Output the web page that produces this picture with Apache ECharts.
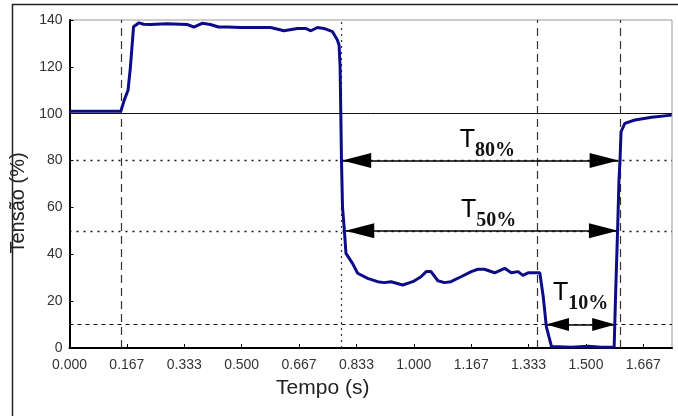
<!DOCTYPE html>
<html>
<head>
<meta charset="utf-8">
<script src="https://cdn.jsdelivr.net/npm/echarts@6/dist/echarts.min.js"></script>
<style>html,body{margin:0;padding:0;background:#fff}#c{width:678px;height:416px}</style>
</head>
<body>
<div id="c"></div>
<script>
var time = [0, 0.149, 0.159, 0.170, 0.177, 0.186, 0.202, 0.215, 0.235, 0.283, 0.341, 0.361, 0.385, 0.409, 0.433, 0.458, 0.497, 0.555, 0.584, 0.623, 0.662, 0.686, 0.701, 0.720, 0.739, 0.764, 0.778, 0.783, 0.786, 0.790, 0.793, 0.798, 0.803, 0.822, 0.837, 0.866, 0.895, 0.914, 0.934, 0.968, 0.997, 1.021, 1.036, 1.050, 1.070, 1.089, 1.108, 1.137, 1.167, 1.186, 1.205, 1.235, 1.264, 1.283, 1.303, 1.317, 1.332, 1.366, 1.376, 1.385, 1.400, 1.458, 1.507, 1.545, 1.582, 1.586, 1.592, 1.596, 1.599, 1.602, 1.613, 1.642, 1.691, 1.749];
var tension = [101, 101, 105.8, 110, 120, 137.1, 138.8, 138.2, 138.1, 138.4, 138.1, 137, 138.6, 138.1, 137, 137, 136.8, 136.8, 136.8, 135.4, 136.4, 136.4, 135.4, 136.8, 136.4, 135, 131.5, 129.3, 120, 80, 60, 51, 40.4, 36.1, 31.9, 29.7, 28.3, 27.9, 28.3, 26.9, 28.3, 30.4, 32.6, 32.6, 28.7, 27.9, 28.3, 30.4, 32.6, 33.6, 33.6, 32.1, 34, 32.1, 32.6, 31, 32.1, 32.1, 21.9, 9.1, 0.6, 0.3, 0.8, 0.3, 0.3, 21.9, 50.4, 71.7, 80.2, 92.3, 95.9, 97.3, 98.5, 99.4];
var yTicks = [0, 20, 40, 60, 80, 100, 120, 140];
var solidLevel = [100];
var dottedLevels = [80, 50];
var dashedLevels = [10];
var dashedTimes = [0.149, 1.363, 1.600];
var dottedTimes = [0.788];
var arrowNames = ['80%', '50%', '10%'];
var arrowLevels = [80, 50, 10];
var arrowStart = [0.792, 0.801, 1.384];
var arrowEnd = [1.595, 1.593, 1.585];

var chart = echarts.init(document.getElementById('c'), null, {renderer: 'canvas'});

var refLines = [];
solidLevel.forEach(function (v) {
  refLines.push({yAxis: v, lineStyle: {type: 'solid', color: '#111', width: 1}});
});
dottedLevels.forEach(function (v) {
  refLines.push({yAxis: v, lineStyle: {type: [2, 5], color: '#111', width: 1.3}});
});
dashedLevels.forEach(function (v) {
  refLines.push({yAxis: v, lineStyle: {type: [4, 4], color: '#111', width: 1}});
});
dashedTimes.forEach(function (v) {
  refLines.push({xAxis: v, lineStyle: {type: [8, 5], color: '#333', width: 1.2}});
});
dottedTimes.forEach(function (v) {
  refLines.push({xAxis: v, lineStyle: {type: [2, 4], color: '#333', width: 1.2}});
});

var arrows = arrowNames.map(function (n, i) {
  var small = (i === 2);
  var sz = small ? [13, 23] : [15, 29];
  var off = [0, sz[1] / 2];
  return [
    {coord: [arrowStart[i], arrowLevels[i]], symbol: 'triangle', symbolSize: sz, symbolOffset: off},
    {coord: [arrowEnd[i], arrowLevels[i]], symbol: 'triangle', symbolSize: sz, symbolOffset: off,
      label: {show: true, position: 'insideMiddleTop', distance: small ? 11 : 0,
        formatter: '{t|T}{s|' + n + '}',
        padding: [0, 0, 0, small ? 0 : 14],
        rich: {
          t: {fontFamily: 'Liberation Sans', fontSize: 25, color: '#000', verticalAlign: 'bottom', padding: [0, 0, 8, 0]},
          s: {fontFamily: 'Liberation Serif', fontWeight: 'bold', fontSize: 20, color: '#111', verticalAlign: 'bottom'}
        }
      }}
  ];
});

chart.setOption({
  animation: false,
  backgroundColor: '#fff',
  graphic: [{
    type: 'rect', shape: {x: 12.5, y: 4.5, width: 700, height: 440},
    style: {fill: 'none', stroke: '#222', lineWidth: 1.5}, silent: true
  }],
  grid: {left: 69.5, top: 20, right: 6, bottom: 68, show: true, borderColor: '#999', borderWidth: 1},
  xAxis: {
    type: 'value', min: 0, max: 1.75, interval: 1 / 6,
    name: 'Tempo (s)', nameLocation: 'middle', nameGap: 30,
    nameTextStyle: {fontFamily: 'Liberation Sans', fontSize: 21, color: '#222', padding: [0, 96, 0, 0]},
    axisLine: {show: true, lineStyle: {color: '#000', width: 2}},
    axisTick: {show: true, inside: true, length: 4, lineStyle: {color: '#000'}},
    axisLabel: {showMaxLabel: false, margin: 10, fontFamily: 'Liberation Sans', fontSize: 14, color: '#333',
      formatter: function (v) { return v.toFixed(3); }},
    splitLine: {show: false}
  },
  yAxis: {
    type: 'value', min: yTicks[0], max: yTicks[yTicks.length - 1], interval: yTicks[1] - yTicks[0],
    name: 'Tensão (%)', nameLocation: 'middle', nameGap: 37, nameRotate: 90,
    nameTextStyle: {fontFamily: 'Liberation Sans', fontSize: 20, color: '#222', padding: [0, 38, 0, 0]},
    axisLine: {show: true, lineStyle: {color: '#000', width: 2}},
    axisTick: {show: true, inside: true, length: 4, lineStyle: {color: '#000'}},
    axisLabel: {margin: 7, fontFamily: 'Liberation Sans', fontSize: 14, color: '#333'},
    splitLine: {show: false}
  },
  series: [{
    type: 'line',
    data: time.map(function (t, i) { return [t, tension[i]]; }),
    showSymbol: false,
    lineStyle: {color: '#0c0c88', width: 3},
    z: 5,
    markLine: {
      silent: true, symbol: 'none', animation: false,
      label: {show: false},
      data: refLines
    }
  }, {
    type: 'line', data: [], z: 6,
    markLine: {
      silent: true, animation: false,
      lineStyle: {type: 'solid', color: '#000', width: 1.5},
      itemStyle: {color: '#000'},
      data: arrows
    }
  }]
});
</script>
</body>
</html>
